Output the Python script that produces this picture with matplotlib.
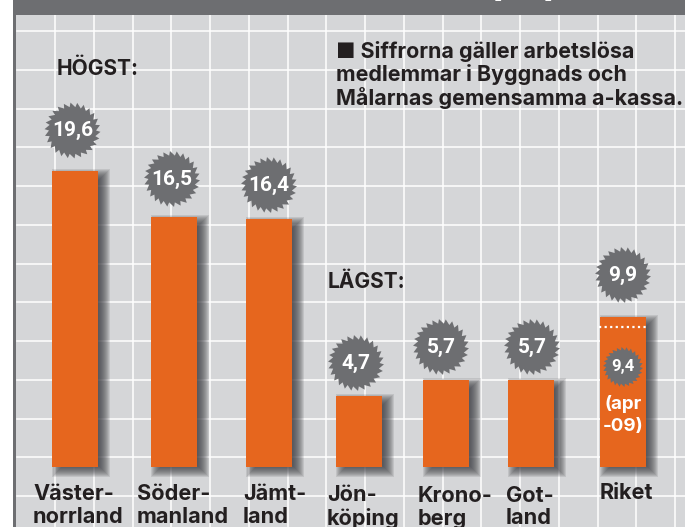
import numpy as np
import matplotlib
matplotlib.use("Agg")
import matplotlib.pyplot as plt
from matplotlib.patches import Rectangle, Polygon

# data
regions = ["Väster-\nnorrland", "Söder-\nmanland", "Jämt-\nland", "Jön-\nköping", "Krono-\nberg", "Got-\nland", "Riket"]
rates = [19.6, 16.5, 16.4, 4.7, 5.7, 5.7, 9.9]
rate_labels = ["19,6", "16,5", "16,4", "4,7", "5,7", "5,7", "9,9"]
prev_rate = 9.4
prev_label = "9,4"

# layout, in pixels of the 685x527 picture
W, H = 685, 527
bar_left = [52, 151, 246, 336, 423, 508, 600]
bar_w = 46
label_x = [33, 137, 243, 327, 418, 506, 600]
label_y = [505.5, 505.5, 505.5, 507, 507.5, 507, 493]
blade_x = [72.5, 172, 269, 356, 441, 532, 623]
blade_y = [130.5, 179, 185, 363, 347, 347, 275]
grid_x = np.arange(16.5, 700, 38.75)[1:]
grid_y = 496 - 38.75 * np.arange(0, 13)

GREY = "#6d6e71"
PANEL = "#d5d6d8"
ORANGE = "#e6661e"
INK = "#231f20"

zero_y = 466.5
px_per_unit = 15.1


def py(p):
    return (zero_y - p) / px_per_unit


def saw(ax, cx, cy, r, teeth=26):
    # saw blade: each tooth rises slowly then drops back
    step = 2 * np.pi / teeth
    ang = np.arange(teeth) * step
    xs, ys = [], []
    for a in ang:
        xs += [cx + 0.84 * r * np.cos(a), cx + 1.0 * r * np.cos(a + 0.2 * step)]
        ys += [cy + 0.84 * r * np.sin(a), cy + 1.0 * r * np.sin(a + 0.2 * step)]
    xy = np.column_stack([xs, py(np.array(ys))])
    ax.add_patch(Polygon(xy, closed=True, fc=GREY, ec="none", zorder=6))


plt.rcParams["font.family"] = ["Inter", "DejaVu Sans"]
fig = plt.figure(figsize=(W / 100, H / 100), dpi=100, facecolor="white")
ax = fig.add_axes([0, 0, 1, 1])
ax.set_xlim(0, W)
ax.set_ylim(py(H), py(0))
ax.axis("off")

# panel, grid, header
ax.add_patch(Rectangle((13.5, py(H)), W, py(0) - py(H), fc=PANEL, ec="none", zorder=0))
ax.add_patch(Rectangle((13.5, py(H)), 3, py(0) - py(H), fc=GREY, ec="none", zorder=1))
for gx in grid_x:
    ax.axvline(gx, color="white", lw=1.1, zorder=1)
for gy in grid_y:
    ax.axhline(py(gy), xmin=16.5 / W, color="white", lw=1.1, zorder=1)
ax.add_patch(Rectangle((13.5, py(14.7)), W, py(0) - py(14.7), fc=GREY, ec="none", zorder=2))
ax.text(523, py(3), "(%)", color="white", fontsize=30, fontweight="bold", ha="center", va="bottom", zorder=3)

# soft bar shadows
for x, v in zip(bar_left, rates):
    for g in np.arange(-5, 7):
        ax.add_patch(Rectangle((x + 6 - g, -(4 + g) / px_per_unit), bar_w + 2 * g, v + (2 * g) / px_per_unit,
                               fc="#3f4045", ec="none", alpha=0.13, zorder=3))

ax.bar(bar_left, rates, width=bar_w, align="edge", color=ORANGE, zorder=4)

# dotted line for last year's level
ax.plot([599, 649], [py(326.7), py(326.7)], color="white", lw=1.6, ls=(0, (1, 1.5)), zorder=5)

for x, y, lab in zip(blade_x, blade_y, rate_labels):
    saw(ax, x, y, 28)
    ax.text(x, py(y), lab, color="white", fontsize=15, fontweight="bold", family=["Roboto", "DejaVu Sans"],
            ha="center", va="center", zorder=7)
saw(ax, 623, 367, 20)
ax.text(623, py(367), prev_label, color="white", fontsize=12, fontweight="bold", family=["Roboto", "DejaVu Sans"],
        ha="center", va="center", zorder=7)
ax.text(623, py(415), "(apr\n-09)", color="white", fontsize=13.5, fontweight="bold", ha="center", va="center",
        linespacing=1.34, zorder=7)

for x, y, lab in zip(label_x, label_y, regions):
    ax.text(x, py(y), lab, color=INK, fontsize=15.6, fontweight="bold", ha="left", va="center", linespacing=1.16, zorder=7)

ax.text(57, py(69), "HÖGST:", color=INK, fontsize=15, fontweight="bold", va="center", zorder=7)
ax.text(328, py(282), "LÄGST:", color=INK, fontsize=15, fontweight="bold", va="center", zorder=7)
ax.text(336, py(75), "■ Siffrorna gäller arbetslösa\nmedlemmar i Byggnads och\nMålarnas gemensamma a-kassa.", color=INK,
        fontsize=15.4, fontweight="bold", va="center", linespacing=1.13, zorder=7)

fig.savefig("out.png", dpi=100)
